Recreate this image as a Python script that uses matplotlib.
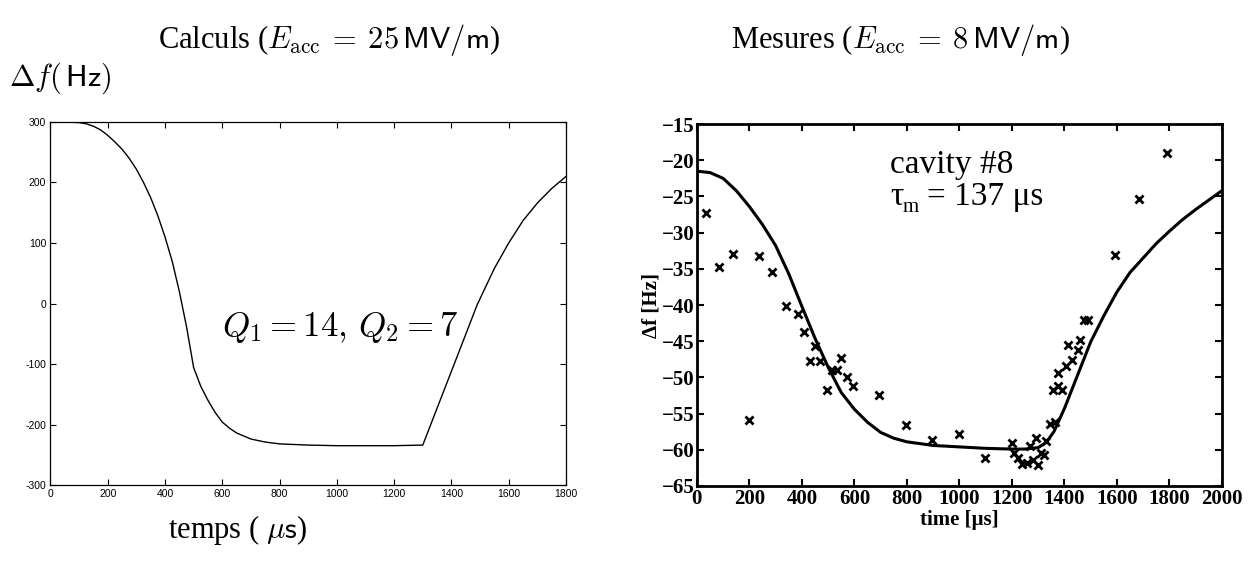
import matplotlib
matplotlib.use("Agg")
import matplotlib.pyplot as plt

plt.rcParams['mathtext.fontset'] = 'cm'
plt.rcParams['axes.unicode_minus'] = False

# Calculs (left panel): detuning vs time
calc_t = [0, 50, 100, 125, 150, 175, 200, 225, 250, 275, 300, 325, 350, 375,
          400, 425, 450, 475, 500, 525, 550, 575, 600, 625, 650, 700, 750, 800,
          900, 1000, 1100, 1200, 1300, 1350, 1400, 1450, 1490, 1500, 1550, 1600,
          1650, 1700, 1750, 1800]
calc_df = [300, 300, 299, 297, 293, 287, 278, 267, 255, 240, 222, 200, 175, 145,
           110, 70, 20, -38, -106, -137, -160, -180, -196, -206, -214, -224, -229,
           -232, -234, -235, -235, -235, -234, -173, -112, -51, -2, 8, 58, 100,
           137, 166, 190, 210]

# Mesures (right panel): fitted curve
fit_t = [0, 50, 100, 150, 200, 250, 300, 350, 400, 450, 500, 550, 600, 650, 700,
         750, 800, 900, 1000, 1100, 1200, 1250, 1300, 1330, 1360, 1400, 1450,
         1500, 1550, 1600, 1650, 1700, 1750, 1800, 1850, 1900, 1950, 2000]
fit_df = [-21.5, -21.7, -22.5, -24.2, -26.4, -28.9, -31.8, -35.7, -40.2, -44.6,
          -48.6, -52.1, -54.4, -56.2, -57.6, -58.4, -58.9, -59.4, -59.6, -59.8,
          -59.9, -59.9, -59.7, -59.0, -57.5, -54.3, -49.7, -45.1, -41.5, -38.2,
          -35.5, -33.5, -31.5, -29.8, -28.2, -26.8, -25.5, -24.2]

# Mesures: measured points
meas_t = [35, 83, 136, 197, 237, 287, 340, 385, 408, 431, 449, 470, 494, 514,
          532, 549, 571, 594, 692, 798, 897, 998, 1096, 1199, 1209, 1225, 1240,
          1259, 1270, 1282, 1290, 1300, 1311, 1323, 1330, 1346, 1366, 1356, 1376,
          1391, 1376, 1406, 1428, 1413, 1451, 1459, 1474, 1489, 1592, 1686, 1789]
meas_df = [-27.3, -34.8, -33.0, -55.9, -33.2, -35.4, -40.2, -41.2, -43.7, -47.8,
           -45.7, -47.8, -51.7, -49.0, -49.0, -47.3, -50.0, -51.2, -52.4, -56.6,
           -58.7, -57.8, -61.1, -59.0, -60.4, -61.1, -62.0, -61.8, -59.5, -61.4,
           -58.4, -62.1, -60.5, -60.7, -58.8, -56.5, -56.1, -51.7, -51.2, -51.7,
           -49.4, -48.4, -47.6, -45.5, -46.2, -44.8, -42.0, -42.0, -33.1, -25.3,
           -19.0]

left_xticks = [0, 200, 400, 600, 800, 1000, 1200, 1400, 1600, 1800]
left_yticks = [300, 200, 100, 0, -100, -200, -300]
right_xticks = [0, 200, 400, 600, 800, 1000, 1200, 1400, 1600, 1800, 2000]
right_yticks = [-15, -20, -25, -30, -35, -40, -45, -50, -55, -60, -65]

fig = plt.figure(figsize=(12.58, 5.69), dpi=100)

# ---- left panel
ax1 = fig.add_axes([0.0401, 0.1476, 0.4098, 0.638])
ax1.plot(calc_t, calc_df, color='black', lw=1.0)
ax1.set_xlim(0, 1800)
ax1.set_ylim(-300, 300)
ax1.set_xticks(left_xticks)
ax1.set_yticks(left_yticks)
ax1.set_xticklabels([str(v) for v in left_xticks])
ax1.set_yticklabels([str(v) for v in left_yticks])
ax1.tick_params(direction='in', length=4, width=0.8, top=True, right=True,
                labelsize=7.5, pad=3)
for lab in ax1.get_xticklabels() + ax1.get_yticklabels():
    lab.set_fontfamily('Liberation Sans')
for s in ax1.spines.values():
    s.set_linewidth(0.9)
ax1.text(1010, -40, r'$Q_1 = 14,\, Q_2 = 7$', fontsize=25, ha='center', va='center')

# ---- right panel
ax2 = fig.add_axes([0.554, 0.1459, 0.4173, 0.636])
ax2.plot(fit_t, fit_df, color='black', lw=2.2)
ax2.plot(meas_t, meas_df, ls='none', marker='x', ms=5.5, mew=2.0, color='black')
ax2.set_xlim(0, 2000)
ax2.set_ylim(-65, -15)
ax2.set_xticks(right_xticks)
ax2.set_yticks(right_yticks)
ax2.set_xticklabels([str(v) for v in right_xticks])
ax2.set_yticklabels(['\u2212' + str(-v) for v in right_yticks])
ax2.tick_params(direction='in', length=5, width=1.5, top=True, right=True,
                labelsize=15, pad=2)
for lab in ax2.get_xticklabels() + ax2.get_yticklabels():
    lab.set_fontfamily('Liberation Serif')
    lab.set_fontweight('bold')
for s in ax2.spines.values():
    s.set_linewidth(2.0)
ax2.set_xlabel('time [\u03bcs]', fontfamily='Liberation Serif', fontweight='bold',
               fontsize=15, labelpad=1)
ax2.set_ylabel('\u0394f [Hz]', fontfamily='Liberation Serif', fontweight='bold',
               fontsize=15, labelpad=0)
ax2.text(735, -21.8, 'cavity #8', fontfamily='Liberation Serif', fontsize=24,
         va='baseline')
ax2.text(735, -26.2, '\u03c4', fontfamily='Liberation Serif', fontsize=24,
         va='baseline')
ax2.text(783, -27.1, 'm', fontfamily='Liberation Serif', fontsize=15,
         va='baseline')
ax2.text(875, -26.2, '= 137 \u03bcs', fontfamily='Liberation Serif', fontsize=24,
         va='baseline')

# ---- titles and axis texts
fig.text(0.262, 0.93, r'Calculs ($E_{\rm acc} \:=\: 25\,\mathsf{MV}/\mathsf{m}$)',
         fontfamily='Liberation Serif', fontsize=22, ha='center', va='center')
fig.text(0.716, 0.93, r'Mesures ($E_{\rm acc} \:=\: 8\,\mathsf{MV}/\mathsf{m}$)',
         fontfamily='Liberation Serif', fontsize=22, ha='center', va='center')
fig.text(0.007, 0.862, r'$\Delta f(\,\mathsf{Hz})$', fontsize=22, ha='left', va='center')
fig.text(0.189, 0.068, r'temps ( $\mu\mathsf{s}$)', fontfamily='Liberation Serif',
         fontsize=22, ha='center', va='center')

fig.savefig('out.png', dpi=100)
